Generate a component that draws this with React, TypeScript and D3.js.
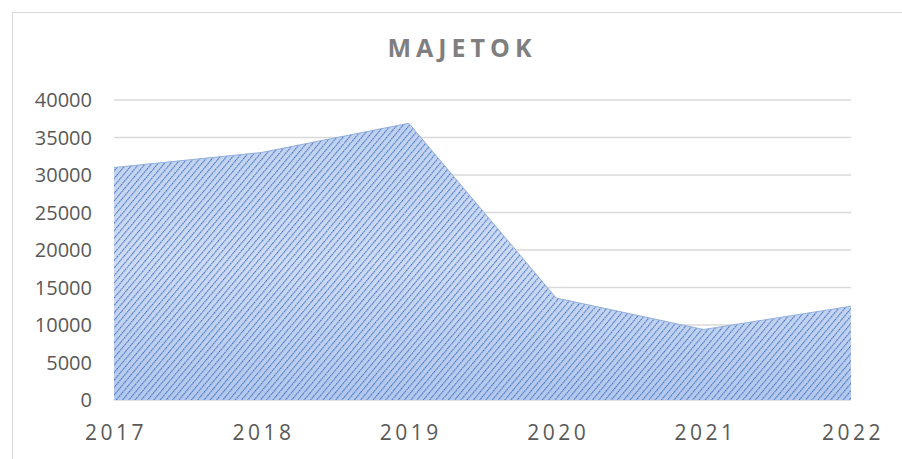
import React from "react";
import * as d3 from "d3";

const years = ["2017", "2018", "2019", "2020", "2021", "2022"];
const values = [31000, 33000, 36900, 13600, 9400, 12500];
const yTicks = [0, 5000, 10000, 15000, 20000, 25000, 30000, 35000, 40000];

const W = 902;
const H = 459;
const plot = { left: 114, right: 851, top: 100, bottom: 400 };

export default function App() {
  const x = d3.scalePoint<string>().domain(years).range([plot.left, plot.right]);
  const y = d3.scaleLinear().domain([0, 40000]).range([plot.bottom, plot.top]);

  const pts = years.map((yr, i) => ({ yr, v: values[i] }));
  const area = d3
    .area<{ yr: string; v: number }>()
    .x((d) => x(d.yr)!)
    .y0(y(0))
    .y1((d) => y(d.v));
  const topLine = d3
    .line<{ yr: string; v: number }>()
    .x((d) => x(d.yr)!)
    .y((d) => y(d.v));

  return (
    <svg
      width={W}
      height={H}
      style={{ position: "absolute", left: 0, top: 0, background: "#fff" }}
    >
      <defs>
        <linearGradient id="bg" x1="0" y1="0" x2="0" y2="1">
          <stop offset="0" stopColor="#c0d2ef" />
          <stop offset="0.5" stopColor="#cfdcf3" />
          <stop offset="1" stopColor="#b3c8ec" />
        </linearGradient>
        <pattern
          id="hatch"
          width="4.8"
          height="4.8"
          patternUnits="userSpaceOnUse"
          patternTransform="rotate(40)"
        >
          <line x1="0" y1="0" x2="0" y2="4.8" stroke="#3f6fc2" strokeWidth="2.2" strokeDasharray="1.6 0.8" />
        </pattern>
      </defs>

      {/* chart border */}
      <rect x={12.5} y={12.5} width={W + 20} height={H + 20} fill="none" stroke="#d9d9d9" />

      {/* title */}
      <text
        x={462}
        y={57}
        textAnchor="middle"
        fontFamily="'Open Sans', sans-serif"
        fontWeight="bold"
        fontSize={25}
        letterSpacing={5}
        fill="#7f7f7f"
      >
        MAJETOK
      </text>

      {/* gridlines */}
      {yTicks.map((t) => (
        <line
          key={t}
          x1={plot.left}
          x2={plot.right}
          y1={y(t)}
          y2={y(t)}
          stroke="#d9d9d9"
          strokeWidth={1.5}
        />
      ))}

      {/* area */}
      <path d={area(pts) ?? ""} fill="url(#bg)" />
      <path d={area(pts) ?? ""} fill="url(#hatch)" />
      <path d={topLine(pts) ?? ""} fill="none" stroke="#94b0df" strokeWidth={1} />

      {/* y labels */}
      {yTicks.map((t) => (
        <text
          key={t}
          x={92}
          y={y(t) + 7}
          textAnchor="end"
          fontFamily="'Open Sans', sans-serif"
          fontSize={20}
          fill="#595959"
        >
          {t}
        </text>
      ))}

      {/* x labels */}
      {years.map((yr) => (
        <text
          key={yr}
          x={x(yr)! + 2}
          y={440}
          textAnchor="middle"
          fontFamily="'Open Sans', sans-serif"
          fontSize={21}
          letterSpacing={3.5}
          fill="#595959"
        >
          {yr}
        </text>
      ))}
    </svg>
  );
}
